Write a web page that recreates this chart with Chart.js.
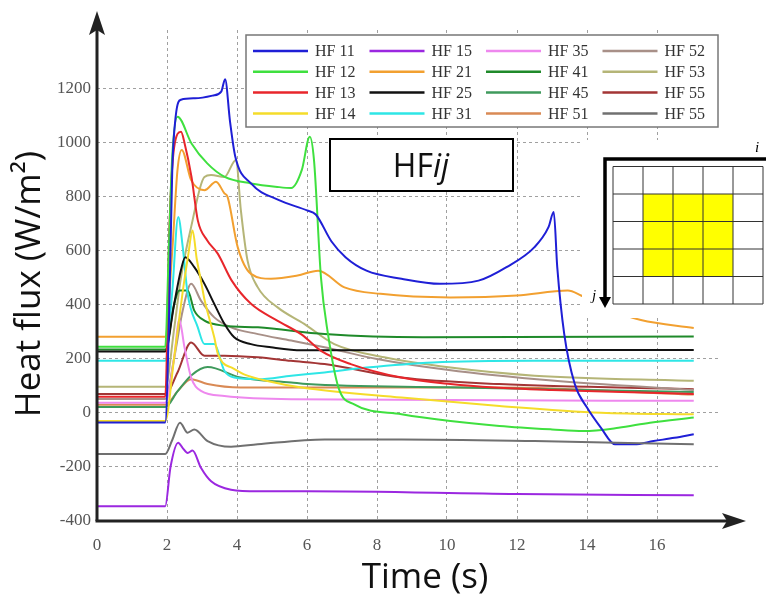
<!DOCTYPE html>
<html>
<head>
<meta charset="utf-8">
<script src="https://cdn.jsdelivr.net/npm/chart.js@4/dist/chart.umd.min.js"></script>
<style>
  html, body { margin: 0; padding: 0; background: #fff; }
</style>
</head>
<body>
<canvas id="heatChart" width="766" height="596"></canvas>
<script>
// ---- data (time in s, heat flux in W/m2) ----
const labels = ['HF 11', 'HF 12', 'HF 13', 'HF 14', 'HF 15', 'HF 21', 'HF 25', 'HF 31',
                'HF 35', 'HF 41', 'HF 45', 'HF 51', 'HF 52', 'HF 53', 'HF 55', 'HF 55'];
const colors = ['#1f1fd6', '#3fe03f', '#e8262b', '#f5dc2a', '#9b27e0', '#f2a030', '#111111', '#2ee6e6',
                '#ee88ee', '#1f8a2a', '#3f9a5c', '#d98a55', '#a89088', '#b5b577', '#a33535', '#707070'];

const xTicks = [0, 2, 4, 6, 8, 10, 12, 14, 16];
const yTicks = [-400, -200, 0, 200, 400, 600, 800, 1000, 1200];

const hf11T = [0, 1.95, 2.05, 2.15, 2.25, 2.4, 2.8, 3.3, 3.55, 3.66, 3.8, 3.95, 4.4, 5.2, 6.0, 6.25, 6.7, 7.1, 7.7, 8.7, 9.8, 10.9, 11.7, 12.5, 12.9, 13.05, 13.15, 13.35, 13.65, 14.0, 14.4, 14.8, 15.35, 15.9, 16.5, 17.05];
const hf11  = [-35, -35, 300, 900, 1100, 1160, 1165, 1175, 1190, 1236, 1080, 950, 850, 788, 750, 735, 635, 577, 527, 497, 478, 490, 540, 614, 688, 744, 540, 292, 107, 20, -55, -116, -116, -104, -92, -79];

const hf12T = [0, 1.95, 2.05, 2.15, 2.3, 2.7, 3.15, 3.65, 4.4, 5.15, 5.55, 5.85, 6.08, 6.2, 6.4, 6.6, 6.9, 7.35, 8.7, 10.1, 11.5, 13.0, 13.9, 14.9, 15.8, 17.05];
const hf12  = [245, 245, 600, 950, 1097, 998, 924, 874, 850, 837, 833, 899, 1023, 936, 500, 292, 94, 32, -5, -30, -48, -61, -67, -55, -36, -17];

const hf13T = [0, 1.95, 2.07, 2.2, 2.4, 2.5, 2.7, 2.88, 3.15, 3.45, 3.85, 4.4, 5.15, 5.85, 6.4, 7.25, 8.7, 10.1, 11.35, 13.0, 15.0, 17.05];
const hf13  = [60, 60, 690, 980, 1041, 1000, 874, 713, 639, 590, 490, 404, 342, 290, 230, 181, 131, 107, 94, 85, 78, 70];

const hf14T = [0, 1.95, 2.2, 2.45, 2.6, 2.73, 2.85, 2.97, 3.07, 3.2, 3.35, 3.45, 3.6, 3.85, 4.2, 5.0, 5.85, 8.7, 11.5, 14.4, 17.05];
const hf14  = [-30, -30, 200, 450, 580, 676, 570, 490, 420, 354, 280, 220, 185, 168, 143, 115, 94, 57, 26, 1, -5];

const hf15T = [0, 1.95, 2.1, 2.32, 2.45, 2.59, 2.73, 2.97, 3.26, 3.83, 4.6, 6.0, 12.0, 17.05];
const hf15  = [-345, -345, -200, -110, -130, -148, -139, -203, -253, -284, -290, -290, -300, -305];

const hf21T = [0, 1.95, 2.15, 2.3, 2.42, 2.69, 3.07, 3.4, 3.64, 3.73, 4.02, 4.4, 4.97, 5.73, 6.32, 7.07, 8.1, 10.1, 12.0, 13.45, 13.83, 14.5, 15.54, 17.05];
const hf21  = [282, 282, 600, 900, 974, 862, 825, 856, 813, 800, 614, 515, 497, 509, 527, 465, 441, 428, 435, 453, 435, 390, 344, 315];

const hf25T = [0, 1.95, 2.2, 2.4, 2.52, 2.78, 3.07, 3.35, 3.64, 3.92, 4.4, 4.97, 5.85, 17.05];
const hf25  = [228, 228, 400, 530, 577, 540, 478, 404, 330, 280, 255, 243, 232, 233];

const hf31T = [0, 1.95, 2.15, 2.32, 2.45, 2.59, 2.88, 3.07, 3.35, 3.64, 3.92, 4.6, 5.55, 6.5, 7.7, 9.6, 12.5, 17.05];
const hf31  = [193, 193, 450, 726, 614, 441, 317, 255, 255, 156, 131, 125, 138, 150, 168, 187, 193, 193];

const hf35T = [0, 1.95, 2.2, 2.35, 2.5, 2.69, 2.97, 3.64, 5.55, 17.05];
const hf35  = [38, 38, 200, 345, 243, 131, 82, 63, 51, 45];

const hf41T = [0, 1.95, 2.2, 2.35, 2.59, 2.78, 3.07, 3.64, 4.6, 6.5, 9.3, 17.05];
const hf41  = [235, 235, 400, 453, 453, 379, 342, 323, 317, 292, 280, 283];

const hf45T = [0, 1.95, 2.3, 2.7, 3.16, 4.1, 5.55, 6.0, 10.0, 17.05];
const hf45  = [22, 22, 80, 140, 170, 131, 113, 107, 95, 78];

const hf51T = [0, 1.95, 2.3, 2.69, 3.16, 4.1, 5.5, 11.5, 17.05];
const hf51  = [30, 30, 80, 125, 107, 94, 94, 94, 68];

const hf52T = [0, 1.95, 2.2, 2.45, 2.69, 2.97, 3.35, 3.83, 4.6, 5.55, 6.5, 8.0, 10.0, 13.0, 17.05];
const hf52  = [52, 52, 200, 380, 478, 416, 354, 317, 292, 268, 243, 200, 160, 120, 85];

const hf53T = [0, 1.95, 2.21, 2.4, 2.69, 3.07, 3.26, 3.64, 3.97, 4.11, 4.3, 4.59, 5.16, 5.92, 6.78, 8.21, 10.1, 12.5, 17.05];
const hf53  = [97, 97, 317, 503, 689, 874, 881, 874, 937, 751, 565, 466, 391, 330, 255, 206, 168, 138, 119];

const hf55aT = [0, 1.95, 2.3, 2.69, 3.07, 3.64, 4.59, 5.54, 6.5, 8.69, 11.5, 17.05];
const hf55a  = [70, 70, 150, 261, 212, 212, 206, 193, 181, 131, 107, 88];

const hf55bT = [0, 1.95, 2.15, 2.37, 2.59, 2.78, 3.16, 3.83, 4.59, 6.5, 8.7, 12.5, 17.05];
const hf55b  = [-152, -152, -100, -36, -73, -61, -104, -125, -116, -98, -98, -104, -116];

const series = [
  [hf11T, hf11], [hf12T, hf12], [hf13T, hf13], [hf14T, hf14],
  [hf15T, hf15], [hf21T, hf21], [hf25T, hf25], [hf31T, hf31],
  [hf35T, hf35], [hf41T, hf41], [hf45T, hf45], [hf51T, hf51],
  [hf52T, hf52], [hf53T, hf53], [hf55aT, hf55a], [hf55bT, hf55b]
];

// draw order: blue on top
const drawOrder = [1, 3, 4, 5, 6, 7, 8, 9, 10, 11, 12, 13, 14, 15, 16, 0];

const datasets = series.map(function (s, i) {
  return {
    label: labels[i],
    data: s[0].map(function (t, k) { return { x: t, y: s[1][k] }; }),
    borderColor: colors[i],
    backgroundColor: colors[i],
    borderWidth: 2,
    pointRadius: 0,
    cubicInterpolationMode: 'monotone',
    order: drawOrder[i]
  };
});

function arrowHead(c, x, y, dir, len, half) {
  // dir: 'up' | 'right' | 'down'
  c.beginPath();
  if (dir === 'up') {
    c.moveTo(x, y); c.lineTo(x - half, y + len); c.lineTo(x, y + len - 5); c.lineTo(x + half, y + len);
  } else if (dir === 'right') {
    c.moveTo(x, y); c.lineTo(x - len, y - half); c.lineTo(x - len + 5, y); c.lineTo(x - len, y + half);
  } else {
    c.moveTo(x, y); c.lineTo(x - half, y - len); c.lineTo(x + half, y - len);
  }
  c.closePath();
  c.fill();
}

const titleFont = '35px "Open Sans", sans-serif';

const decor = {
  id: 'decor',
  afterDatasetsDraw(chart) {
    const c = chart.ctx;
    c.save();

    // ---- inset grid picture ----
    c.fillStyle = '#fff';
    c.fillRect(582, 140, 184, 178);
    const gx0 = 613, gy0 = 166.5, cw = 30, ch = 27.5;
    c.fillStyle = '#ffff00';
    c.fillRect(gx0 + cw, gy0 + ch, cw * 3, ch * 3);
    c.strokeStyle = '#333';
    c.lineWidth = 1;
    for (let k = 0; k <= 5; k++) {
      c.beginPath(); c.moveTo(gx0 + k * cw, gy0); c.lineTo(gx0 + k * cw, gy0 + 5 * ch); c.stroke();
      c.beginPath(); c.moveTo(gx0, gy0 + k * ch); c.lineTo(gx0 + 5 * cw, gy0 + k * ch); c.stroke();
    }
    c.strokeStyle = '#000';
    c.fillStyle = '#000';
    c.lineWidth = 3.5;
    c.beginPath(); c.moveTo(766, 159); c.lineTo(605, 159); c.lineTo(605, 298); c.stroke();
    arrowHead(c, 605, 308, 'down', 11, 6);
    c.font = 'italic 15px "Liberation Serif", serif';
    c.textAlign = 'center';
    c.textBaseline = 'middle';
    c.fillText('i', 757, 148);
    c.fillText('j', 594, 296);

    // ---- HFij box ----
    c.fillStyle = '#fff';
    c.fillRect(330, 139, 183, 52);
    c.lineWidth = 2;
    c.strokeStyle = '#000';
    c.strokeRect(330, 139, 183, 52);
    c.fillStyle = '#111';
    c.textAlign = 'left';
    c.textBaseline = 'alphabetic';
    c.font = '32px "Open Sans", sans-serif';
    const w1 = c.measureText('HF').width;
    c.font = 'italic 32px "Open Sans", sans-serif';
    const w2 = c.measureText('ij').width;
    const sx = 421 - (w1 + w2) / 2;
    c.font = '32px "Open Sans", sans-serif';
    c.fillText('HF', sx, 177);
    c.font = 'italic 32px "Open Sans", sans-serif';
    c.fillText('ij', sx + w1, 177);

    // ---- legend (column-major, 4 rows) ----
    const lx = 246, ly = 35, lw = 472, lh = 92;
    c.fillStyle = '#fff';
    c.fillRect(lx, ly, lw, lh);
    c.lineWidth = 1.5;
    c.strokeStyle = '#777';
    c.strokeRect(lx, ly, lw, lh);
    c.font = '16px "Liberation Serif", serif';
    c.textBaseline = 'middle';
    chart.data.datasets.forEach(function (ds, i) {
      const col = Math.floor(i / 4), row = i % 4;
      const x = 253 + col * 116.5, y = 51 + row * 20.8;
      c.strokeStyle = ds.borderColor;
      c.lineWidth = 2.5;
      c.beginPath(); c.moveTo(x, y); c.lineTo(x + 55, y); c.stroke();
      c.fillStyle = '#333';
      c.fillText(ds.label, x + 62, y + 1);
    });

    c.restore();
  },
  afterDraw(chart) {
    const c = chart.ctx;
    const a = chart.chartArea;
    c.save();
    // main axes with arrows
    c.strokeStyle = '#222';
    c.fillStyle = '#222';
    c.lineWidth = 3;
    c.beginPath(); c.moveTo(a.left, a.bottom); c.lineTo(a.left, 28); c.stroke();
    c.beginPath(); c.moveTo(a.left - 1.5, a.bottom); c.lineTo(730, a.bottom); c.stroke();
    arrowHead(c, a.left, 11, 'up', 24, 8);
    arrowHead(c, 746, a.bottom, 'right', 24, 8);

    // axis titles
    c.fillStyle = '#111';
    c.textAlign = 'center';
    c.textBaseline = 'middle';
    c.font = titleFont;
    c.fillText('Time (s)', 425, 578);
    c.translate(30, 284);
    c.rotate(-Math.PI / 2);
    c.fillText('Heat flux (W/m\u00B2)', 0, 0);
    c.restore();
  }
};

const tickFont = { family: '"Liberation Serif", serif', size: 17 };
const gridColor = function (ctx) {
  return ctx.tick && ctx.tick.value === 0 && ctx.scale.axis === 'x' ? 'rgba(0,0,0,0)' : '#a0a0a0';
};
const plainNumber = function (v) { return String(v); };

new Chart(document.getElementById('heatChart'), {
  type: 'line',
  data: { datasets: datasets },
  options: {
    responsive: false,
    animation: false,
    devicePixelRatio: 1,
    layout: { padding: { left: 0, right: 46, top: 30, bottom: 0 } },
    plugins: { legend: { display: false }, tooltip: { enabled: false } },
    scales: {
      x: {
        type: 'linear',
        min: 0,
        max: 17.8,
        afterBuildTicks: function (scale) {
          scale.ticks = xTicks.map(function (v) { return { value: v }; });
        },
        afterFit: function (scale) { scale.height = 75; },
        ticks: { font: tickFont, color: '#555', padding: 14, maxRotation: 0, callback: plainNumber },
        grid: { color: gridColor, drawTicks: false, lineWidth: 1 },
        border: { display: false, dash: [3, 3] }
      },
      y: {
        type: 'linear',
        min: -400,
        max: 1418,
        afterBuildTicks: function (scale) {
          scale.ticks = yTicks.map(function (v) { return { value: v }; });
        },
        afterFit: function (scale) { scale.width = 97; },
        ticks: { font: tickFont, color: '#555', padding: 6, callback: plainNumber },
        grid: { color: gridColor, drawTicks: false, lineWidth: 1 },
        border: { display: false, dash: [3, 3] }
      }
    }
  },
  plugins: [decor]
});
</script>
</body>
</html>
